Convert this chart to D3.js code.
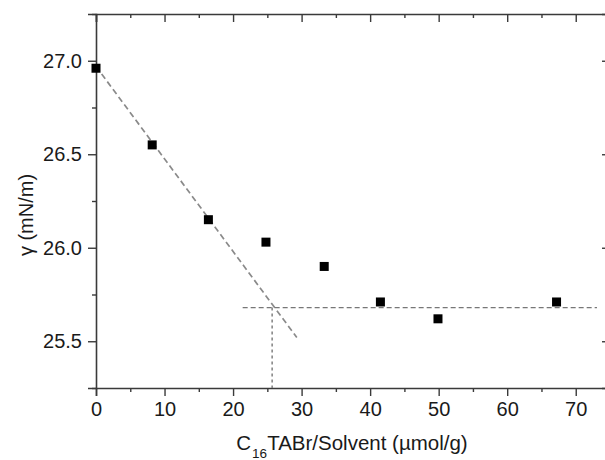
<!DOCTYPE html>
<html>
<head>
<meta charset="utf-8">
<script src="https://cdn.jsdelivr.net/npm/d3@7"></script>
<style>
  html, body { margin: 0; padding: 0; background: #fff; }
  svg { display: block; font-family: "Liberation Sans", Arial, sans-serif; }
</style>
</head>
<body>
<div id="chart"></div>
<script>
// measured points
const concentration = [0, 8.2, 16.4, 24.8, 33.3, 41.5, 49.9, 67.2];
const tension = [26.96, 26.55, 26.15, 26.03, 25.90, 25.71, 25.62, 25.71];

// guide lines
const slopeLine = [[0, 26.97], [29.3, 25.52]];
const plateauLine = [[21.4, 25.68], [73.1, 25.68]];
const cmcLine = [[25.7, 25.68], [25.7, 25.25]];

const xMajor = [0, 10, 20, 30, 40, 50, 60, 70];
const xMinor = [5, 15, 25, 35, 45, 55, 65, 75];
const yMajor = [25.5, 26.0, 26.5, 27.0];
const yMinor = [25.25, 25.75, 26.25, 26.75, 27.25];

const W = 605, H = 460;
const plotLeft = 96, plotRight = 610, plotTop = 14, plotBottom = 388;

const svg = d3.select("#chart").append("svg")
  .attr("width", W)
  .attr("height", H);

const x = d3.scaleLinear().domain([0, 75]).range([plotLeft, plotRight]);
const y = d3.scaleLinear().domain([25.25, 27.25]).range([plotBottom, plotTop]);

const axisColor = "#3a3a3a";

function styleAxis(g) {
  g.select(".domain").attr("stroke", axisColor).attr("stroke-width", 1.6);
  g.selectAll(".tick line").attr("stroke", axisColor).attr("stroke-width", 1.4);
  g.selectAll(".tick text").attr("fill", "#1a1a1a").style("font-size", "20px");
}

// bottom
svg.append("g").attr("transform", `translate(0,${plotBottom})`)
  .call(d3.axisBottom(x).tickValues(xMajor).tickSize(8).tickPadding(6).tickFormat(d3.format("d")))
  .call(styleAxis);
svg.append("g").attr("transform", `translate(0,${plotBottom})`)
  .call(d3.axisBottom(x).tickValues(xMinor).tickSize(4).tickFormat(""))
  .call(styleAxis).select(".domain").remove();

// top (inward)
svg.append("g").attr("transform", `translate(0,${plotTop})`)
  .call(d3.axisTop(x).tickValues(xMajor).tickSize(-8).tickFormat(""))
  .call(styleAxis);
svg.append("g").attr("transform", `translate(0,${plotTop})`)
  .call(d3.axisTop(x).tickValues(xMinor).tickSize(-4).tickFormat(""))
  .call(styleAxis).select(".domain").remove();

// left
svg.append("g").attr("transform", `translate(${plotLeft},0)`)
  .call(d3.axisLeft(y).tickValues(yMajor).tickSize(8).tickPadding(6).tickFormat(d3.format(".1f")))
  .call(styleAxis);
svg.append("g").attr("transform", `translate(${plotLeft},0)`)
  .call(d3.axisLeft(y).tickValues(yMinor).tickSize(4).tickFormat(""))
  .call(styleAxis).select(".domain").remove();

// right (inward)
svg.append("g").attr("transform", `translate(${plotRight},0)`)
  .call(d3.axisRight(y).tickValues(yMajor).tickSize(-8).tickFormat(""))
  .call(styleAxis);
svg.append("g").attr("transform", `translate(${plotRight},0)`)
  .call(d3.axisRight(y).tickValues(yMinor).tickSize(-4).tickFormat(""))
  .call(styleAxis).select(".domain").remove();

// guide lines
const line = d3.line().x(d => x(d[0])).y(d => y(d[1]));

svg.append("path").datum(slopeLine)
  .attr("d", line)
  .attr("fill", "none")
  .attr("stroke", "#8a8a8a")
  .attr("stroke-width", 1.7)
  .attr("stroke-dasharray", "6,3.5");

svg.append("path").datum(plateauLine)
  .attr("d", line)
  .attr("fill", "none")
  .attr("stroke", "#777")
  .attr("stroke-width", 1.4)
  .attr("stroke-dasharray", "5,3");

svg.append("path").datum(cmcLine)
  .attr("d", line)
  .attr("fill", "none")
  .attr("stroke", "#777")
  .attr("stroke-width", 1.4)
  .attr("stroke-dasharray", "3,3");

// points
const pts = concentration.map((c, i) => ({ c, t: tension[i] }));
svg.append("g").selectAll("rect")
  .data(pts)
  .enter().append("rect")
  .attr("x", d => x(d.c) - 4.5)
  .attr("y", d => y(d.t) - 4.5)
  .attr("width", 9)
  .attr("height", 9)
  .attr("fill", "#000");

// axis titles
const xt = svg.append("text")
  .attr("x", 352)
  .attr("y", 450)
  .attr("text-anchor", "middle")
  .attr("fill", "#1a1a1a")
  .style("font-size", "20.5px");
xt.append("tspan").text("C");
xt.append("tspan").attr("dy", 8).attr("dx", 1).style("font-size", "13.5px").text("16");
xt.append("tspan").attr("dy", -8).text("TABr/Solvent (\u00b5mol/g)");

svg.append("text")
  .attr("transform", `translate(33,215) rotate(-90)`)
  .attr("text-anchor", "middle")
  .attr("fill", "#1a1a1a")
  .style("font-size", "20px")
  .text("\u03b3 (mN/m)");
</script>
</body>
</html>
